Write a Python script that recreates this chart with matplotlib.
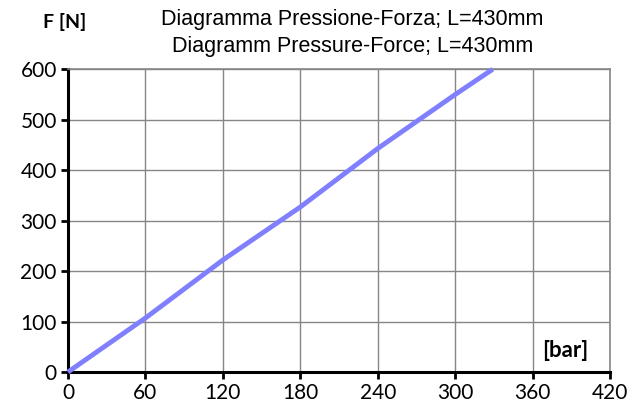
import numpy as np
import matplotlib
matplotlib.use("Agg")
import matplotlib.pyplot as plt

# data
pressure_bar = [0, 60, 120, 180, 240, 300, 329]
force_n = [0, 107, 222, 327, 443, 550, 600]

x_ticks = [0, 60, 120, 180, 240, 300, 360, 420]
y_ticks = [0, 100, 200, 300, 400, 500, 600]

title_lines = ["Diagramma Pressione-Forza; L=430mm",
               "Diagramm Pressure-Force; L=430mm"]

plt.rcParams["font.family"] = ["Lato", "DejaVu Sans"]

fig = plt.figure(figsize=(6.35, 4.12), dpi=100)
ax = fig.add_axes([0.107, 0.097, 0.854, 0.735])

ax.plot(pressure_bar, force_n, color="#8080ff", lw=3.5, solid_capstyle="butt",
        zorder=3, clip_on=False)

ax.set_xlim(0, 420)
ax.set_ylim(0, 600)
ax.set_xticks(x_ticks)
ax.set_yticks(y_ticks)
ax.tick_params(labelsize=15, length=5, width=2, color="black", pad=3)
ax.grid(True, color="#868686", lw=1.0)
ax.set_axisbelow(True)

for side in ["left", "bottom"]:
    ax.spines[side].set_linewidth(2.2)
    ax.spines[side].set_color("black")
for side in ["top", "right"]:
    ax.spines[side].set_linewidth(1.2)
    ax.spines[side].set_color("#868686")

fig.text(0.102, 0.947, "F [N]", fontsize=14, fontweight="bold", ha="center", va="center")
fig.text(0.555, 0.953, title_lines[0], fontsize=15.5, ha="center", va="center",
         family=["Liberation Sans", "DejaVu Sans"])
fig.text(0.555, 0.888, title_lines[1], fontsize=15.5, ha="center", va="center",
         family=["Liberation Sans", "DejaVu Sans"])
ax.text(0.96, 0.07, "[bar]", transform=ax.transAxes, fontsize=16, fontweight="bold",
        ha="right", va="center")

fig.savefig("out.png", dpi=100, facecolor="white")
